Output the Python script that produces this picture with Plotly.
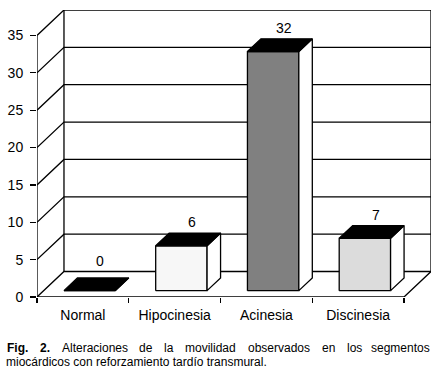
import plotly.graph_objects as go

# ---- data ----
categories = ["Normal", "Hipocinesia", "Acinesia", "Discinesia"]
values = [0, 6, 32, 7]
face_colors = ["#000000", "#f7f7f7", "#808080", "#dcdcdc"]
y_ticks = [0, 5, 10, 15, 20, 25, 30, 35]
caption_line1 = ["Fig.", "2.", "Alteraciones", "de", "la", "movilidad", "observados", "en", "los", "segmentos"]
caption_line2 = "miocárdicos con reforzamiento tardío transmural."

# ---- geometry / style ----
W, H = 443, 373
ML, MR, MT, MB = 37, 12, 10, 76
N = len(categories)
YMAX = 35
X_RANGE = 4.294          # includes depth
Y_RANGE = 38.41          # includes depth
DX = X_RANGE - N         # depth offset in x units
DY = Y_RANGE - YMAX      # depth offset in y units
BAR_L, BAR_R = 0.22, 0.78
FRONT, BACK = 0.25, 0.75
LW = 1.3
FONT = "Arial, Liberation Sans, sans-serif"

fig = go.Figure()

# walls / gridlines
gx, gy = [], []
for v in y_ticks:
    gx += [0, DX, N + DX, None]
    gy += [v, v + DY, v + DY, None]
gx += [0, 0, None, DX, DX, None, N + DX, N + DX, None, 0, N, N + DX, None]
gy += [0, YMAX, None, DY, YMAX + DY, None, DY, YMAX + DY, None, 0, 0, DY, None]
fig.add_trace(go.Scatter(x=gx, y=gy, mode="lines", line=dict(color="black", width=LW),
                         hoverinfo="skip", cliponaxis=False))

# 3D bars
for i, v in enumerate(values):
    x0, x1 = i + BAR_L, i + BAR_R
    fx, fy = FRONT * DX, FRONT * DY
    bx, by = BACK * DX, BACK * DY
    front = ([x0 + fx, x1 + fx, x1 + fx, x0 + fx, x0 + fx],
             [fy, fy, v + fy, v + fy, fy])
    side = ([x1 + fx, x1 + bx, x1 + bx, x1 + fx, x1 + fx],
            [fy, by, v + by, v + fy, fy])
    top = ([x0 + fx, x1 + fx, x1 + bx, x0 + bx, x0 + fx],
           [v + fy, v + fy, v + by, v + by, v + fy])
    for (px, py), col in ((front, face_colors[i]), (side, "white"), (top, "black")):
        fig.add_trace(go.Scatter(x=px, y=py, mode="lines", fill="toself", fillcolor=col,
                                 line=dict(color="black", width=LW), hoverinfo="skip",
                                 cliponaxis=False))
    fig.add_annotation(x=i + 0.5 + 0.65 * DX, y=max(v + by, DY), xref="x", yref="y",
                       text=str(v), showarrow=False, yanchor="bottom", yshift=1,
                       font=dict(family=FONT, size=14, color="black"))

# caption (first line justified between x=6 and x=431 px)
pw, ph = W - ML - MR, H - MT - MB
def px2paper_x(p):
    return (p - ML) / pw
def px2paper_y(p):
    return (H - MB - p) / ph

starts = [6, 39, 60.7, 138.4, 163.4, 184.4, 246.8, 320.5, 345.5, 431]
for k, (word, sx) in enumerate(zip(caption_line1, starts)):
    last = k == len(caption_line1) - 1
    txt = f"<b>{word}</b>" if k < 2 else word
    fig.add_annotation(x=px2paper_x(sx), y=px2paper_y(348), xref="paper", yref="paper",
                       text=txt, showarrow=False, xanchor="right" if last else "left",
                       yanchor="middle", borderpad=0,
                       font=dict(family=FONT, size=12, color="black"))
fig.add_annotation(x=px2paper_x(5), y=px2paper_y(361.5), xref="paper", yref="paper",
                   text=caption_line2, showarrow=False, xanchor="left", yanchor="middle",
                   borderpad=0, font=dict(family=FONT, size=12, color="black"))

fig.update_layout(
    width=W, height=H, margin=dict(l=ML, r=MR, t=MT, b=MB, autoexpand=False),
    plot_bgcolor="white", paper_bgcolor="white", showlegend=False, hovermode=False,
    font=dict(family=FONT, size=14, color="black"),
)
fig.update_xaxes(range=[0, X_RANGE], tickvals=[i + 0.5 for i in range(N)], ticktext=categories,
                 ticks="", showgrid=False, zeroline=False, showline=False, fixedrange=True,
                 ticklabelstandoff=8, automargin=False,
                 minor=dict(tickvals=list(range(N + 1)), ticks="outside", ticklen=5,
                            tickcolor="black", tickwidth=LW, showgrid=False),
                 tickfont=dict(family=FONT, size=14, color="black"))
fig.update_yaxes(range=[0, Y_RANGE], tickvals=y_ticks, ticks="outside", ticklen=6,
                 tickcolor="black", tickwidth=LW, showgrid=False, zeroline=False,
                 showline=False, fixedrange=True, ticklabelstandoff=4, automargin=False,
                 tickfont=dict(family=FONT, size=14, color="black"))

fig.write_html("out.html", config={"displayModeBar": False, "staticPlot": True},
               post_script="document.body.style.margin='0';document.body.style.overflow='hidden';")
